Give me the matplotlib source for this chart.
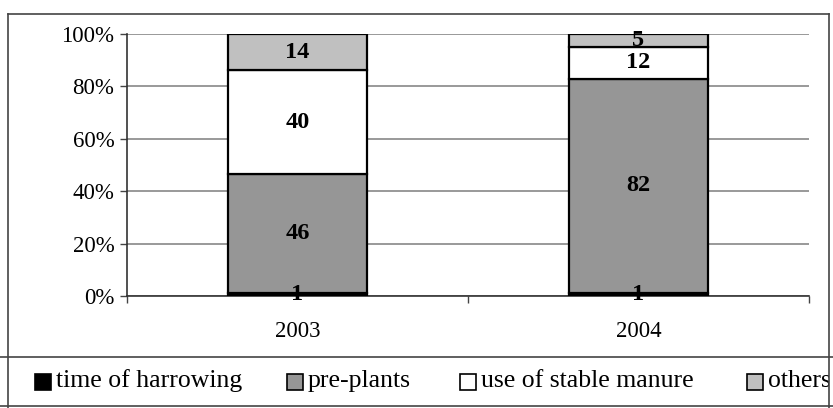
import numpy as np
import matplotlib.pyplot as plt
from matplotlib.patches import Rectangle
from matplotlib.lines import Line2D

plt.rcParams['font.family'] = ['Liberation Serif', 'DejaVu Serif']

# ----------------- DATA -----------------
years = ["2003", "2004"]
series = ["time of harrowing", "pre-plants", "use of stable manure", "others"]
harrowing = [1, 1]
pre_plants = [46, 82]
stable_manure = [40, 12]
others = [14, 5]
colors = ["#000000", "#969696", "#ffffff", "#c0c0c0"]

W, H = 833, 408
fig = plt.figure(figsize=(W / 100, H / 100), dpi=100)

def px_box(x0, y0, x1, y1):
    # pixel box (top-left origin) -> figure fraction rect
    return [x0 / W, 1 - y1 / H, (x1 - x0) / W, (y1 - y0) / H]

ax = fig.add_axes(px_box(127, 34, 809, 296))

values = np.array([harrowing, pre_plants, stable_manure, others], dtype=float)
shares = values / values.sum(axis=0) * 100
x = np.arange(len(years))
bottom = np.zeros(len(years))
for i, name in enumerate(series):
    ax.bar(x, shares[i], 0.405, bottom=bottom, color=colors[i],
           edgecolor="black", linewidth=1.6, zorder=3)
    for j in range(len(years)):
        ax.text(x[j], bottom[j] + shares[i][j] / 2, f"{int(values[i][j])}",
                ha="center", va="center", fontsize=17.5, fontweight="bold", zorder=4)
    bottom += shares[i]

ax.set_xlim(-0.5, 1.5)
ax.set_ylim(0, 100)
ax.set_yticks(np.arange(0, 101, 20))
ax.set_yticklabels([f"{v}%" for v in range(0, 101, 20)], fontsize=16.5)
ax.set_xticks(x)
ax.set_xticklabels(years, fontsize=16.5)
ax.set_xticks([-0.5, 0.5, 1.5], minor=True)
ax.tick_params(axis="x", which="major", length=0, pad=18)
ax.tick_params(axis="x", which="minor", length=5, width=1, color="#444444", direction="out")
ax.tick_params(axis="y", length=5, width=1, color="#444444", pad=4)
ax.yaxis.grid(True, color="#888888", linewidth=1.2, zorder=0)
for s in ["top", "right"]:
    ax.spines[s].set_visible(False)
for s in ["left", "bottom"]:
    ax.spines[s].set_color("#333333")
    ax.spines[s].set_linewidth(1.2)

# outer chart frame
def fline(xs, ys, **kw):
    fig.add_artist(Line2D([v / W for v in xs], [1 - v / H for v in ys],
                          transform=fig.transFigure, color="#444444", linewidth=1.2, **kw))

fline([8, 8], [14, 410])
fline([8, 829], [14, 14])
fline([829, 829], [14, 410])
fline([0, 833], [357, 357])
fline([0, 833], [406, 406])

# legend row
leg = fig.add_axes(px_box(0, 358, 829, 405))
leg.set_xlim(0, 829)
leg.set_ylim(405 - 358, 0)
leg.axis("off")
sq_x = [35, 287, 460, 747]
for i, name in enumerate(series):
    leg.add_patch(Rectangle((sq_x[i], 16), 16, 16, facecolor=colors[i],
                            edgecolor="black", linewidth=1.2))
    leg.text(sq_x[i] + 21, 23, name, fontsize=18.5, va="center", ha="left", clip_on=True)

fig.savefig("out.png", dpi=100)
